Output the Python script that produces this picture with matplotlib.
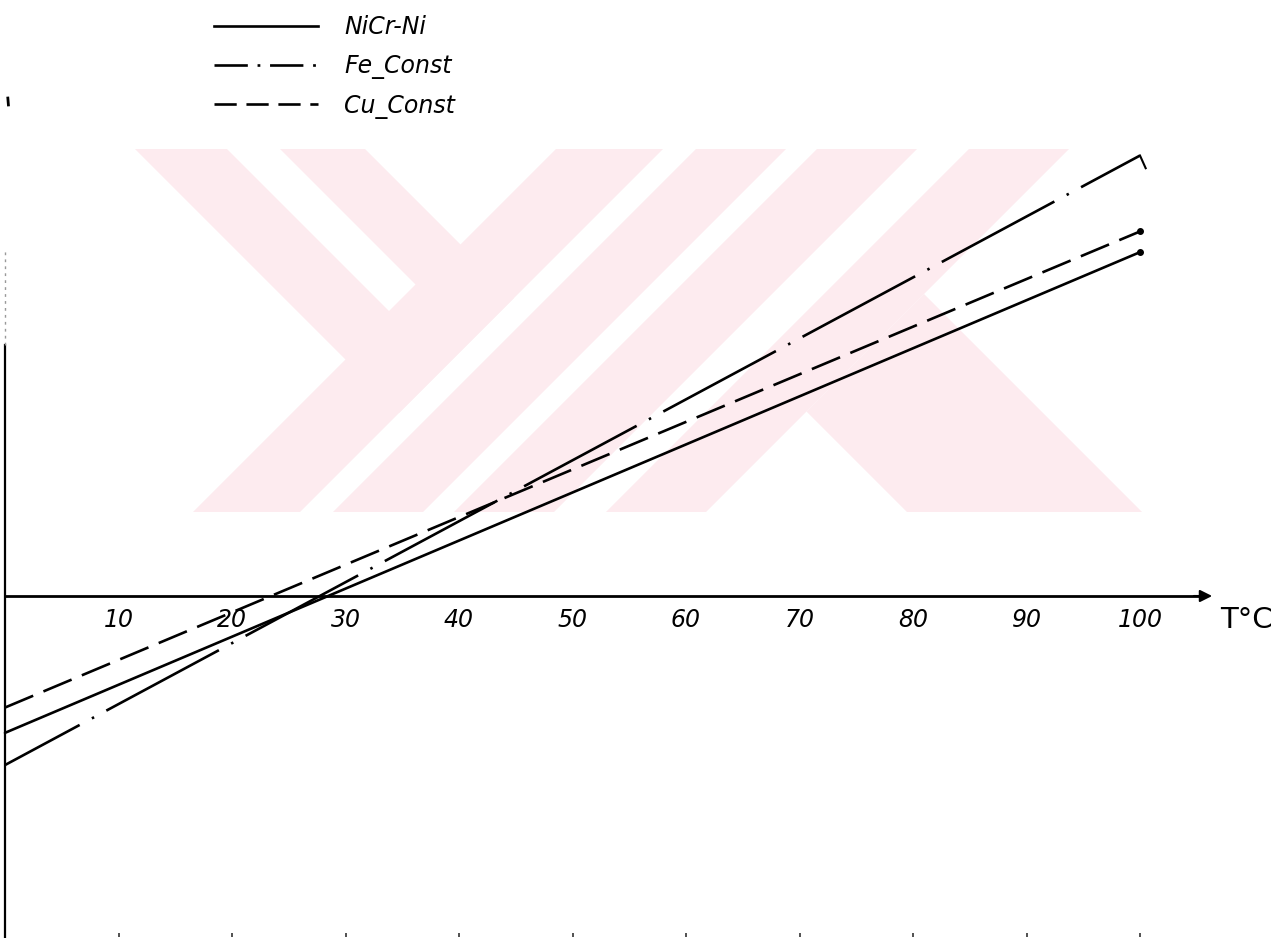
import matplotlib
matplotlib.use("Agg")
import matplotlib.pyplot as plt
from matplotlib.patches import Polygon, Rectangle
from matplotlib.lines import Line2D

plt.rcParams['lines.scale_dashes'] = False
plt.rcParams['font.family'] = ['DejaVu Sans']

# ---------------- data ----------------
temps = [0, 100]                      # °C
nicr_ni = [-1.19, 2.99]               # thermo-EMF (arbitrary mV scale)
fe_const = [-1.47, 3.83]
cu_const = [-0.97, 3.17]
series_names = ["NiCr-Ni", "Fe_Const", "Cu_Const"]
tick_values = [10, 20, 30, 40, 50, 60, 70, 80, 90, 100]
tick_labels = ["10", "20", "30", "40", "50", "60", "70", "80", "90", "100"]
x_label = "T°C"

W, H = 1286, 938
fig = plt.figure(figsize=(W / 100, H / 100), dpi=100)

# ---------------- background watermark (decoration, pixel space) ----------------
bg = fig.add_axes([0, 0, 1, 1], zorder=0)
bg.set_xlim(0, W)
bg.set_ylim(H, 0)
bg.axis('off')
pink = '#fdebef'
clip = Rectangle((135, 149), 1145 - 135, 512 - 149, transform=bg.transData,
                 fill=False, visible=False)
bg.add_patch(clip)

def cs_poly(c1, c2, s1, s2):
    pts = []
    for c, s in [(c1, s1), (c2, s1), (c2, s2), (c1, s2)]:
        pts.append(((s + c) / 2, (s - c) / 2))
    return pts

def add_band(pts, color):
    p = Polygon(pts, closed=True, facecolor=color, edgecolor='none')
    bg.add_patch(p)
    p.set_clip_path(clip)

BIG = 4000
add_band(cs_poly(-14, 216, -BIG, 812), pink)      # left "\" band
add_band(cs_poly(-BIG, BIG, 705, 812), pink)      # "/" bands
add_band(cs_poly(-BIG, BIG, 845, 935), pink)
add_band(cs_poly(-BIG, BIG, 966, 1066), pink)
add_band(cs_poly(-BIG, BIG, 1118, 1218), pink)
add_band(cs_poly(395, 630, 1218, BIG), pink)      # lower-right "\" leg
add_band(cs_poly(78, 131, -BIG, 700), 'white')    # slot in left band

# ---------------- main chart ----------------
ax = fig.add_axes([0, 0, 1, 1], zorder=1)
ax.patch.set_alpha(0)
px_x = 11.35   # pixels per °C
px_y = 115.0   # pixels per unit
ax.set_xlim(-5 / px_x, (W - 5) / px_x)
ax.set_ylim(-(H - 596) / px_y, 596 / px_y)
ax.axis('off')

lw = 1.9
l1, = ax.plot(temps, nicr_ni, color='black', lw=lw, solid_capstyle='round')
l2, = ax.plot(temps, fe_const, color='black', lw=lw,
              ls=(31, (92, 10, 1.8, 10)))
l3, = ax.plot(temps, cu_const, color='black', lw=lw, dashes=(22, 8))
# end dots / hook
ax.plot([temps[-1]], [nicr_ni[-1]], 'o', color='black', ms=4)
ax.plot([temps[-1]], [cu_const[-1]], 'o', color='black', ms=4)
ax.plot([temps[-1], temps[-1] + 0.5], [fe_const[-1], fe_const[-1] - 0.11],
        color='black', lw=1.5)

ymin, ymax = ax.get_ylim()
# x axis with arrow
ax.plot([0, 105.5], [0, 0], color='black', lw=2.0)
ax.annotate('', xy=(106.6, 0), xytext=(104.5, 0),
            arrowprops=dict(arrowstyle='-|>', color='black', lw=1.5,
                            mutation_scale=18))
# y axis
ax.plot([0, 0], [ymin, 2.18], color='black', lw=1.6)
ax.plot([0, 0], [2.18, 3.0], color='#999999', lw=1.0, ls=(0, (2, 3)))
ax.plot([0.25, 0.3], [4.33, 4.27], color='black', lw=2)

# tick labels
for v, t in zip(tick_values, tick_labels):
    ax.text(v, -0.21, t, ha='center', va='center', fontsize=17,
            fontstyle='italic', color='black')
ax.text(109.4, -0.21, x_label, ha='center', va='center', fontsize=21,
        color='black')
# bottom small tick marks
ax.plot(tick_values, [ymin + 0.03] * len(tick_values), '|', color='#333333',
        ms=3.5, mew=1.2)

# legend (proxy handles so the short sample shows the pattern)
h1 = Line2D([], [], color='black', lw=lw)
h2 = Line2D([], [], color='black', lw=lw, ls=(0, (24, 7, 2, 7)))
h3 = Line2D([], [], color='black', lw=lw, dashes=(16, 7))
leg = ax.legend([h1, h2, h3], series_names, loc='upper left',
                bbox_to_anchor=(193 / W, 1 + 6 / H), frameon=False,
                handlelength=4.4, handletextpad=1.1, labelspacing=0.62,
                prop=dict(size=17, style='italic'))

fig.savefig('out.png', dpi=100)
